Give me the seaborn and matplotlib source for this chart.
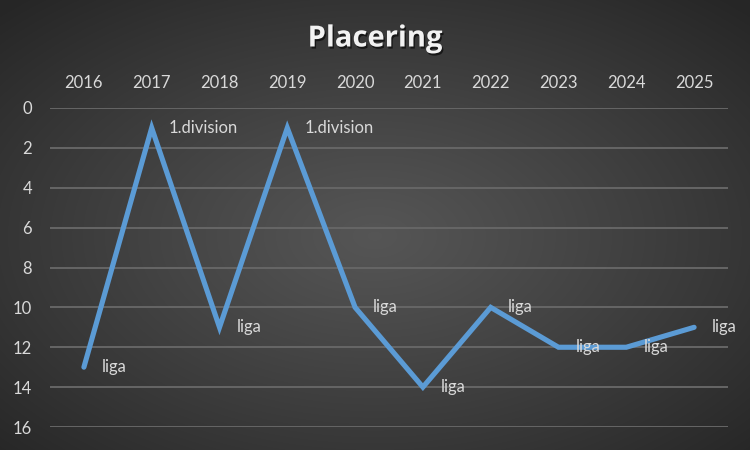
import numpy as np
import pandas as pd
import matplotlib
matplotlib.use("Agg")
import matplotlib.pyplot as plt
import matplotlib.patheffects as pe
import seaborn as sns

years = ["2016", "2017", "2018", "2019", "2020", "2021", "2022", "2023", "2024", "2025"]
placering = [13, 1, 11, 1, 10, 14, 10, 12, 12, 11]
labels = ["liga", "1.division", "liga", "1.division", "liga", "liga", "liga", "liga", "liga", "liga"]
y_ticks = [0, 2, 4, 6, 8, 10, 12, 14, 16]
title = "Placering"

sns.set_theme(style="dark")
plt.rcParams["font.family"] = ["Lato", "DejaVu Sans"]

fig = plt.figure(figsize=(7.5, 4.5), dpi=100)

# radial gradient background
bg = fig.add_axes([0, 0, 1, 1], zorder=-10)
gx = np.linspace(-1, 1, 750)
gy = np.linspace(-1, 1, 450)
X, Y = np.meshgrid(gx, gy)
R = np.sqrt((X / 1.05) ** 2 + ((Y + 0.05) / 1.05) ** 2)
R = np.clip(R, 0, 1.4)
inner, outer = 0.335, 0.150
V = inner + (outer - inner) * np.clip(R / 1.35, 0, 1) ** 1.1
img = np.dstack([V, V, V])
bg.imshow(img, aspect="auto", extent=[0, 1, 0, 1], origin="lower")
bg.set_axis_off()

ax = fig.add_axes([50 / 750, 1 - 427 / 450, 678 / 750, (427 - 108) / 450])
ax.set_facecolor("none")

df = pd.DataFrame({"year": years, "placering": placering, "pos": np.arange(len(years))})
sns.lineplot(data=df, x="pos", y="placering", ax=ax, color="#5B9BD5",
             linewidth=3.7, solid_joinstyle="miter", solid_capstyle="round", zorder=3)

for i, (v, lab) in enumerate(zip(placering, labels)):
    ax.annotate(lab, xy=(i, v), xytext=(12.5, 0), textcoords="offset points",
                ha="left", va="center", fontsize=12, color="#D9D9D9", zorder=4)

ax.set_xlim(-0.5, len(years) - 0.5)
ax.set_ylim(16, 0)
ax.set_yticks(y_ticks)
ax.set_yticklabels([str(t) for t in y_ticks])
ax.set_xticks(np.arange(len(years)))
ax.set_xticklabels(years)
ax.xaxis.tick_top()
ax.tick_params(axis="x", colors="#D9D9D9", labelsize=12, length=0, pad=12)
ax.tick_params(axis="y", colors="#D9D9D9", labelsize=12, length=0, pad=13)
ax.set_xlabel("")
ax.set_ylabel("")
ax.grid(False)
ax.yaxis.grid(True, color="#666666", linewidth=1.4)
for s in ax.spines.values():
    s.set_visible(False)

fig.text(0.5, 1 - 39 / 450, title, ha="center", va="center", fontsize=21,
         fontweight="bold", color="#F2F2F2", family=["Open Sans", "DejaVu Sans"],
         path_effects=[pe.withSimplePatchShadow(offset=(1, -1.5), shadow_rgbFace="black", alpha=0.6)])

fig.savefig("out.png", dpi=100)
